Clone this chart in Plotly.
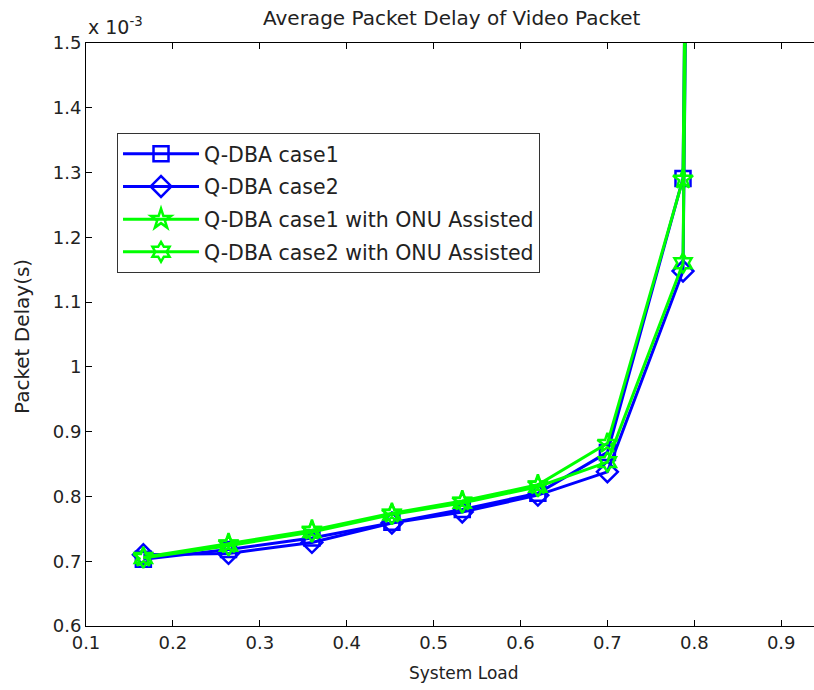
import plotly.graph_objects as go

# System load (x) values
system_load = [0.166, 0.264, 0.360, 0.452, 0.533, 0.620, 0.700, 0.787, 0.880]

# Average packet delay of video packets, in units of 1e-3 s
qdba_case1 = [0.703, 0.718, 0.736, 0.760, 0.780, 0.805, 0.868, 1.291, 13.0]
qdba_case2 = [0.710, 0.712, 0.729, 0.759, 0.776, 0.802, 0.838, 1.148, 13.3]
qdba_case1_onu = [0.706, 0.727, 0.748, 0.774, 0.793, 0.818, 0.882, 1.290, 13.2]
qdba_case2_onu = [0.705, 0.724, 0.745, 0.772, 0.790, 0.815, 0.853, 1.160, 13.6]

series_names = [
    "Q-DBA case1",
    "Q-DBA case2",
    "Q-DBA case1 with ONU Assisted",
    "Q-DBA case2 with ONU Assisted",
]
series_values = [qdba_case1, qdba_case2, qdba_case1_onu, qdba_case2_onu]
series_colors = ["#0000FF", "#0000FF", "#00FF00", "#00FF00"]
series_symbols = ["square-open", "diamond-open", "star-open", "hexagram-open"]
series_sizes = [15, 16, 15, 15]

x_ticks = [0.1, 0.2, 0.3, 0.4, 0.5, 0.6, 0.7, 0.8, 0.9]
y_ticks = [0.6, 0.7, 0.8, 0.9, 1.0, 1.1, 1.2, 1.3, 1.4, 1.5]

FONT = "DejaVu Sans, Liberation Sans, sans-serif"
TXT = "#222222"

fig = go.Figure()
for i, (name, vals, col, sym, sz) in enumerate(
        zip(series_names, series_values, series_colors, series_symbols, series_sizes)):
    fig.add_trace(go.Scatter(
        x=system_load, y=vals, name=name, mode="lines+markers",
        legendgroup="g%d" % i,
        line=dict(color=col, width=3),
        marker=dict(symbol=sym, size=sz, color=col, line=dict(color=col, width=2.5)),
        cliponaxis=True,
    ))

fig.update_layout(
    width=814, height=690,
    margin=dict(l=86, r=0, t=43, b=64),
    paper_bgcolor="white", plot_bgcolor="white",
    font=dict(family=FONT, size=18, color=TXT),
    showlegend=True,
    legend=dict(
        x=0.0426, y=0.8456, xanchor="left", yanchor="top",
        bgcolor="white", bordercolor="#333333", borderwidth=1,
        font=dict(family=FONT, size=20.5, color=TXT),
        traceorder="grouped", tracegroupgap=3, itemwidth=76,
    ),
    xaxis=dict(
        range=[0.1, 0.1 + 728 / 869], tickvals=x_ticks,
        ticktext=[f"{v:g}" for v in x_ticks],
        showgrid=False, zeroline=False,
        showline=True, linecolor="black", linewidth=1,
        mirror="ticks", ticks="inside", ticklen=6, tickcolor="black",
        tickfont=dict(family=FONT, size=18, color=TXT),
    ),
    yaxis=dict(
        range=[0.6, 1.5], tickvals=y_ticks,
        ticktext=[f"{v:g}" for v in y_ticks],
        showgrid=False, zeroline=False,
        showline=True, linecolor="black", linewidth=1,
        mirror=False, ticks="inside", ticklen=6, tickcolor="black",
        tickfont=dict(family=FONT, size=18, color=TXT),
    ),
    annotations=[
        dict(text="Average Packet Delay of Video Packet", xref="paper", yref="paper",
             x=(452 - 86) / 728, y=1 + (43 - 18) / 583, xanchor="center", yanchor="middle",
             showarrow=False, font=dict(family=FONT, size=20, color=TXT)),
        dict(text="System Load", xref="paper", yref="paper",
             x=(464 - 86) / 728, y=-(673 - 626) / 583, xanchor="center", yanchor="middle",
             showarrow=False, font=dict(family=FONT, size=17, color=TXT)),
        dict(text="Packet Delay(s)", xref="paper", yref="paper", textangle=-90,
             x=(22 - 86) / 728, y=(626 - 337) / 583, xanchor="center", yanchor="middle",
             showarrow=False, font=dict(family=FONT, size=20, color=TXT)),
        dict(text="x 10<sup>-3</sup>", xref="paper", yref="paper",
             x=0, y=1 + (43 - 26) / 583, xanchor="left", yanchor="middle",
             showarrow=False, font=dict(family=FONT, size=19, color=TXT)),
    ],
)

fig.write_html("out.html")
